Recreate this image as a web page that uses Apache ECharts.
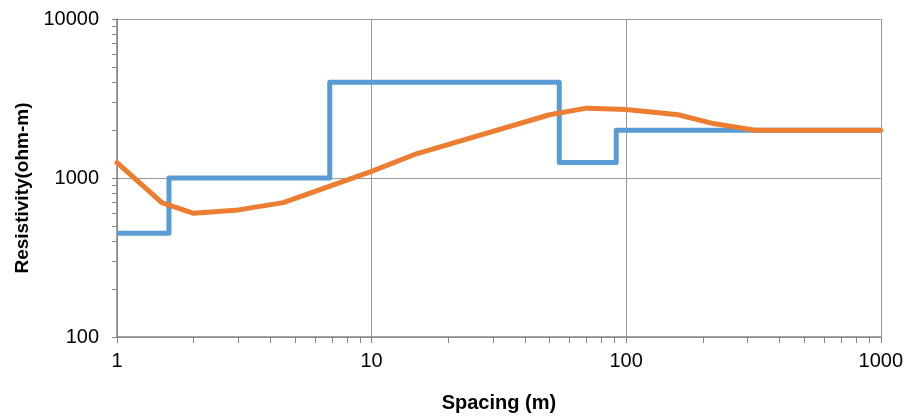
<!DOCTYPE html>
<html>
<head>
<meta charset="utf-8">
<script src="https://cdn.jsdelivr.net/npm/echarts@6/dist/echarts.min.js"></script>
<style>html,body{margin:0;padding:0;background:#fff}#c{width:906px;height:419px}</style>
</head>
<body>
<div id="c"></div>
<script>
// Layered model (blue step line): layer boundaries (m) and resistivities (ohm-m)
const layerSpacing = [1, 1.6, 1.6, 6.85, 6.85, 54.6, 54.6, 91.4, 91.4, 1000];
const layerResistivity = [450, 450, 1000, 1000, 4000, 4000, 1250, 1250, 2000, 2000];
// Apparent resistivity curve (orange)
const curveSpacing = [1, 1.5, 2, 3, 4.5, 10, 15, 50, 70, 100, 160, 220, 320, 1000];
const curveResistivity = [1250, 700, 600, 630, 700, 1100, 1420, 2500, 2750, 2700, 2500, 2200, 2000, 2000];
// Axis minor ticks
const xTicks = [1,2,3,4,5,6,7,8,9,10,20,30,40,50,60,70,80,90,100,200,300,400,500,600,700,800,900,1000];
const yTicks = [100,200,300,400,500,600,700,800,900,1000,2000,3000,4000,5000,6000,7000,8000,9000,10000];

const zip = (a, b) => a.map((v, i) => [v, b[i]]);
const chart = echarts.init(document.getElementById('c'), null, {renderer: 'canvas'});
const axisCol = '#868686';
const font = 'Liberation Sans, Arial';
chart.setOption({
  animation: false,
  grid: {left: 117, right: 24, top: 19, bottom: 82},
  xAxis: [{
    type: 'log', logBase: 10, min: 1, max: 1000,
    name: 'Spacing (m)', nameLocation: 'middle', nameGap: 56,
    nameTextStyle: {fontFamily: font, fontWeight: 'bold', fontSize: 20, color: '#000'},
    axisLine: {lineStyle: {color: axisCol, width: 1.5}},
    axisTick: {show: true, length: 6, lineStyle: {color: axisCol, width: 1}},
    axisLabel: {fontFamily: font, fontSize: 20, color: '#000', margin: 14, formatter: v => String(v)},
    splitLine: {show: true, lineStyle: {color: '#999', width: 1}}
  }, {
    type: 'log', logBase: 10, min: 1, max: 1000, position: 'bottom',
    axisLine: {show: false},
    axisTick: {show: true, length: 6, lineStyle: {color: axisCol, width: 1}, customValues: xTicks},
    axisLabel: {show: false},
    splitLine: {show: false}
  }],
  yAxis: [{
    type: 'log', logBase: 10, min: 100, max: 10000,
    name: 'Resistivity(ohm-m)', nameLocation: 'middle', nameGap: 83,
    nameTextStyle: {fontFamily: font, fontWeight: 'bold', fontSize: 19, color: '#000', padding: [0, 20, 0, 0]},
    axisLine: {show: true, lineStyle: {color: axisCol, width: 1.5}},
    axisTick: {show: true, length: 5, lineStyle: {color: axisCol, width: 1}},
    axisLabel: {fontFamily: font, fontSize: 20, color: '#000', margin: 18, formatter: v => String(v)},
    splitLine: {show: true, lineStyle: {color: '#999', width: 1}}
  }, {
    type: 'log', logBase: 10, min: 100, max: 10000, position: 'left',
    axisLine: {show: false},
    axisTick: {show: true, length: 5, lineStyle: {color: axisCol, width: 1}, customValues: yTicks},
    axisLabel: {show: false},
    splitLine: {show: false}
  }],
  series: [
    {
      name: 'Model', type: 'line', data: zip(layerSpacing, layerResistivity),
      xAxisIndex: 0, yAxisIndex: 0, showSymbol: false, symbol: 'none',
      lineStyle: {color: '#5B9BD5', width: 5, join: 'round'}, z: 2
    },
    {
      name: 'Apparent', type: 'line', data: zip(curveSpacing, curveResistivity),
      xAxisIndex: 0, yAxisIndex: 0, showSymbol: false, symbol: 'none',
      lineStyle: {color: '#ED7D31', width: 5, join: 'round', cap: 'round'}, z: 3
    }
  ]
});
</script>
</body>
</html>
